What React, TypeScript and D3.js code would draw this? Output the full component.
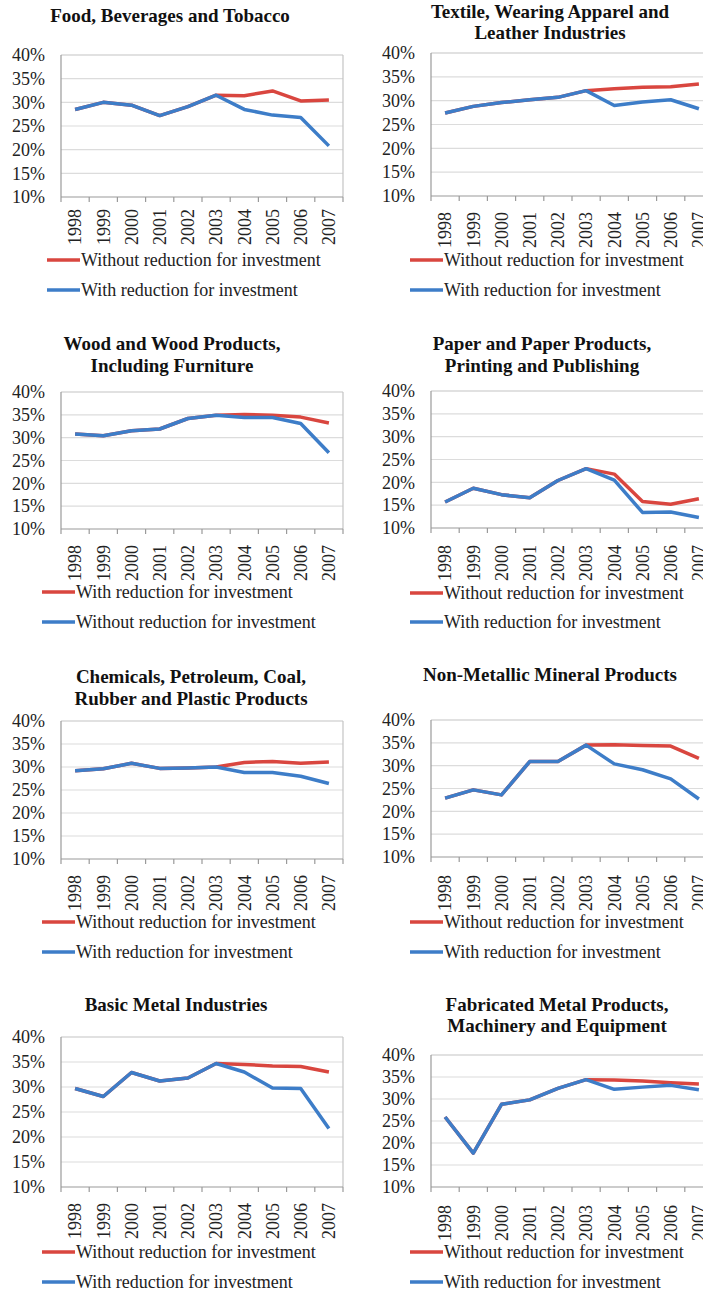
import React from 'react';
import * as d3 from 'd3';

// Years on the x axis and the percentage ticks on the y axis
const years = ['1998', '1999', '2000', '2001', '2002', '2003', '2004', '2005', '2006', '2007'];
const yTicks = [10, 15, 20, 25, 30, 35, 40];

// Values (percent)
const foodRed = [28.5, 30.0, 29.4, 27.2, 29.1, 31.5, 31.4, 32.4, 30.3, 30.5];
const foodBlue = [28.5, 30.0, 29.4, 27.2, 29.1, 31.5, 28.5, 27.3, 26.8, 20.8];
const textileRed = [27.4, 28.8, 29.6, 30.2, 30.7, 32.1, 32.5, 32.8, 32.9, 33.5];
const textileBlue = [27.4, 28.8, 29.6, 30.2, 30.7, 32.1, 29.0, 29.7, 30.2, 28.3];
const woodRed = [30.8, 30.4, 31.5, 31.9, 34.2, 34.9, 35.1, 34.9, 34.5, 33.2];
const woodBlue = [30.8, 30.4, 31.5, 31.9, 34.2, 34.9, 34.4, 34.4, 33.1, 26.7];
const paperRed = [15.7, 18.7, 17.3, 16.6, 20.4, 23.0, 21.8, 15.8, 15.2, 16.4];
const paperBlue = [15.7, 18.7, 17.3, 16.6, 20.4, 23.0, 20.5, 13.4, 13.5, 12.3];
const chemRed = [29.2, 29.6, 30.8, 29.7, 29.8, 30.0, 31.0, 31.2, 30.8, 31.1];
const chemBlue = [29.2, 29.6, 30.8, 29.7, 29.8, 30.0, 28.8, 28.8, 28.0, 26.4];
const mineralRed = [22.9, 24.7, 23.6, 30.9, 30.9, 34.5, 34.6, 34.4, 34.3, 31.6];
const mineralBlue = [22.9, 24.7, 23.6, 30.9, 30.9, 34.5, 30.4, 29.1, 27.1, 22.7];
const basicRed = [29.7, 28.1, 32.9, 31.2, 31.8, 34.7, 34.5, 34.2, 34.1, 33.0];
const basicBlue = [29.7, 28.1, 32.9, 31.2, 31.8, 34.7, 33.0, 29.8, 29.7, 21.7];
const fabRed = [25.9, 17.7, 28.8, 29.8, 32.4, 34.4, 34.3, 34.1, 33.7, 33.4];
const fabBlue = [25.9, 17.7, 28.8, 29.8, 32.4, 34.4, 32.2, 32.7, 33.1, 32.1];

const titles = [
  ['Food, Beverages and Tobacco'],
  ['Textile, Wearing Apparel and', 'Leather Industries'],
  ['Wood and Wood Products,', 'Including Furniture'],
  ['Paper and Paper Products,', 'Printing and Publishing'],
  ['Chemicals, Petroleum, Coal,', 'Rubber and Plastic Products'],
  ['Non-Metallic Mineral Products'],
  ['Basic Metal Industries'],
  ['Fabricated Metal Products,', 'Machinery and Equipment'],
];

const WITHOUT = 'Without reduction for investment';
const WITH = 'With reduction for investment';
const redLabels = [WITHOUT, WITHOUT, WITH, WITHOUT, WITHOUT, WITHOUT, WITHOUT, WITHOUT];
const blueLabels = [WITH, WITH, WITHOUT, WITH, WITH, WITH, WITH, WITH];

const RED = '#d9463f';
const BLUE = '#3d7dc8';
const FONT = '"Liberation Serif", "Times New Roman", serif';

// layout of each panel (col, plot top/bottom, title baselines and centre, legend rows)
const layout = [
  { col: 0, top: 55, bottom: 197, titleX: 170, titleY: [22], legY: [260, 290], legX: 47, gap: 12 },
  { col: 1, top: 53, bottom: 196, titleX: 550, titleY: [18, 39], legY: [260, 290], legX: 410, gap: 16 },
  { col: 0, top: 392, bottom: 529, titleX: 172, titleY: [350, 372], legY: [592, 622], legX: 42, gap: 16 },
  { col: 1, top: 391, bottom: 528, titleX: 542, titleY: [350, 372], legY: [593, 622], legX: 410, gap: 17 },
  { col: 0, top: 721, bottom: 859, titleX: 191, titleY: [683, 705], legY: [922, 952], legX: 42, gap: 16 },
  { col: 1, top: 720, bottom: 857, titleX: 550, titleY: [681], legY: [922, 952], legX: 410, gap: 18 },
  { col: 0, top: 1037, bottom: 1187, titleX: 176, titleY: [1011], legY: [1252, 1282], legX: 42, gap: 16 },
  { col: 1, top: 1055, bottom: 1187, titleX: 557, titleY: [1011, 1032], legY: [1252, 1282], legX: 410, gap: 18 },
];

const reds = [foodRed, textileRed, woodRed, paperRed, chemRed, mineralRed, basicRed, fabRed];
const blues = [foodBlue, textileBlue, woodBlue, paperBlue, chemBlue, mineralBlue, basicBlue, fabBlue];

const Panel = ({ i }: { i: number }) => {
  const L = layout[i];
  const left = L.col === 0 ? 61 : 431;
  const right = left + 282;

  const x = d3.scaleBand<string>().domain(years).range([left, right]);
  const y = d3.scaleLinear().domain([10, 40]).range([L.bottom, L.top]);
  const line = d3.line<number>()
    .x((_, j) => x(years[j])! + x.bandwidth() / 2)
    .y(d => y(d));

  const boundaries = years.map(yr => x(yr)!).concat([right]);

  return (
    <g>
      {titles[i].map((t, k) => (
        <text key={k} x={L.titleX} y={L.titleY[k]} textAnchor="middle"
          fontFamily={FONT} fontWeight="bold" fontSize={19} fill="#111">{t}</text>
      ))}

      {/* gridlines */}
      {yTicks.filter(t => t > 10).map(t => (
        <line key={t} x1={left} x2={right} y1={y(t)} y2={y(t)}
          stroke={t === 40 ? '#c4c4c4' : '#dcdcdc'} strokeWidth={1.2} />
      ))}
      <line x1={right} x2={right} y1={L.top} y2={L.bottom} stroke="#c4c4c4" strokeWidth={1.2} />

      {/* axes */}
      <line x1={left} x2={left} y1={L.top} y2={L.bottom} stroke="#9a9a9a" strokeWidth={1.2} />
      <line x1={left} x2={right} y1={L.bottom} y2={L.bottom} stroke="#9a9a9a" strokeWidth={1.2} />
      {boundaries.map((bx, k) => (
        <line key={k} x1={bx} x2={bx} y1={L.bottom} y2={L.bottom + 5} stroke="#9a9a9a" strokeWidth={1.2} />
      ))}

      {yTicks.map(t => (
        <text key={t} x={left - 16} y={y(t)} dy="0.35em" textAnchor="end"
          fontFamily={FONT} fontSize={18} fill="#222">{`${t}%`}</text>
      ))}

      {years.map(yr => {
        const cx = x(yr)! + x.bandwidth() / 2;
        const cy = L.bottom + L.gap;
        return (
          <text key={yr} x={cx} y={cy} dy="0.35em" textAnchor="end"
            transform={`rotate(-90 ${cx} ${cy})`}
            fontFamily={FONT} fontSize={18} fill="#222">{yr}</text>
        );
      })}

      {/* series: red first, blue drawn on top */}
      <path d={line(reds[i]) ?? ''} fill="none" stroke={RED} strokeWidth={3.5} strokeLinejoin="round" />
      <path d={line(blues[i]) ?? ''} fill="none" stroke={BLUE} strokeWidth={3.5} strokeLinejoin="round" />

      {/* legend */}
      {[RED, BLUE].map((c, k) => (
        <g key={c}>
          <line x1={L.legX} x2={L.legX + 33} y1={L.legY[k]} y2={L.legY[k]} stroke={c} strokeWidth={3.5} />
          <text x={L.legX + 34} y={L.legY[k]} dy="0.33em" fontFamily={FONT} fontSize={18} fill="#222">
            {k === 0 ? redLabels[i] : blueLabels[i]}
          </text>
        </g>
      ))}
    </g>
  );
};

export default function App() {
  return (
    <svg width={703} height={1297} style={{ position: 'absolute', left: 0, top: 0, background: '#fff' }}>
      <rect width={703} height={1297} fill="#fff" />
      {layout.map((_, i) => <Panel key={i} i={i} />)}
    </svg>
  );
}
